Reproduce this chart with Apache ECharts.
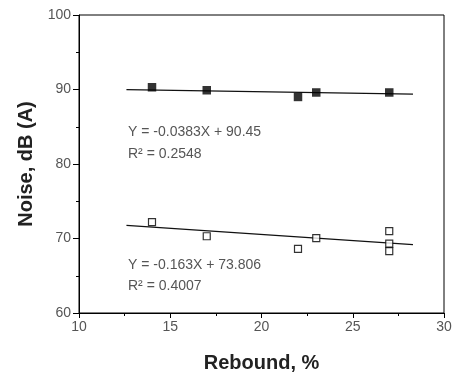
<!DOCTYPE html>
<html><head><meta charset="utf-8">
<script src="https://cdn.jsdelivr.net/npm/echarts@6/dist/echarts.min.js"></script>
<style>html,body{margin:0;padding:0;background:#fff}#c{width:454px;height:375px}</style>
</head><body><div id="c"></div>
<script>
var filledX = [14, 17, 22, 23, 27];
var filledY = [90.3, 89.9, 89.0, 89.6, 89.6];
var openX = [14, 17, 22, 23, 27, 27, 27];
var openY = [72.2, 70.3, 68.6, 70.05, 71.0, 69.3, 68.3];
var fitUpperX = [12.6, 28.3];
var fitUpperY = [89.97, 89.37];
var fitLowerX = [12.6, 28.3];
var fitLowerY = [71.75, 69.19];
var eqUpper = ["Y = -0.0383X + 90.45", "R\u00B2 = 0.2548"];
var eqLower = ["Y = -0.163X + 73.806", "R\u00B2 = 0.4007"];
var xTitle = "Rebound, %";
var yTitle = "Noise, dB (A)";

function pairs(xs, ys){ return xs.map(function(x,i){return [x, ys[i]];}); }
var font = "Liberation Sans, Arial, sans-serif";
var chart = echarts.init(document.getElementById('c'), null, {renderer:'canvas'});
chart.setOption({
  animation:false,
  grid:{left:79, right:10, top:15, bottom:62, show:true, borderColor:'#000', borderWidth:1,
    containLabel:false, outerBoundsMode:'none'},
  xAxis:{type:'value', min:10, max:30, interval:5,
    name:xTitle, nameLocation:'middle', nameGap:40,
    nameTextStyle:{fontFamily:font, fontWeight:'bold', fontSize:20, color:'#222'},
    axisLine:{lineStyle:{color:'#000', width:1}},
    axisTick:{show:true, inside:false, length:5, lineStyle:{color:'#000'}},
    minorTick:{show:true, splitNumber:2, length:3, lineStyle:{color:'#000'}},
    splitLine:{show:false},
    axisLabel:{fontFamily:font, fontSize:14, color:'#555', margin:7}
  },
  yAxis:{type:'value', min:60, max:100, interval:10,
    name:yTitle, nameLocation:'middle', nameGap:42,
    nameTextStyle:{fontFamily:font, fontWeight:'bold', fontSize:20, color:'#222'},
    axisLine:{show:true, lineStyle:{color:'#000', width:1}},
    axisTick:{show:true, inside:false, length:6, lineStyle:{color:'#000'}},
    minorTick:{show:true, splitNumber:2, length:3, lineStyle:{color:'#000'}},
    splitLine:{show:false},
    axisLabel:{fontFamily:font, fontSize:14, color:'#555', margin:8}
  },
  series:[
    {type:'line', data:pairs(fitUpperX, fitUpperY), symbol:'none', lineStyle:{color:'#111', width:1.3}, z:2},
    {type:'line', data:pairs(fitLowerX, fitLowerY), symbol:'none', lineStyle:{color:'#111', width:1.3}, z:2},
    {type:'scatter', data:pairs(filledX, filledY), symbol:'rect', symbolSize:8.5,
      itemStyle:{color:'#000'}, z:3},
    {type:'scatter', data:pairs(openX, openY), symbol:'rect', symbolSize:7,
      itemStyle:{color:'#fff', borderColor:'#000', borderWidth:1.2}, z:3}
  ],
  graphic:[
    {type:'text', left:128, top:125, style:{text:eqUpper[0], font:'14px '+font, fill:'#555'}},
    {type:'text', left:128, top:147, style:{text:eqUpper[1], font:'14px '+font, fill:'#555'}},
    {type:'text', left:128, top:258, style:{text:eqLower[0], font:'14px '+font, fill:'#555'}},
    {type:'text', left:128, top:279, style:{text:eqLower[1], font:'14px '+font, fill:'#555'}}
  ]
});
</script></body></html>
